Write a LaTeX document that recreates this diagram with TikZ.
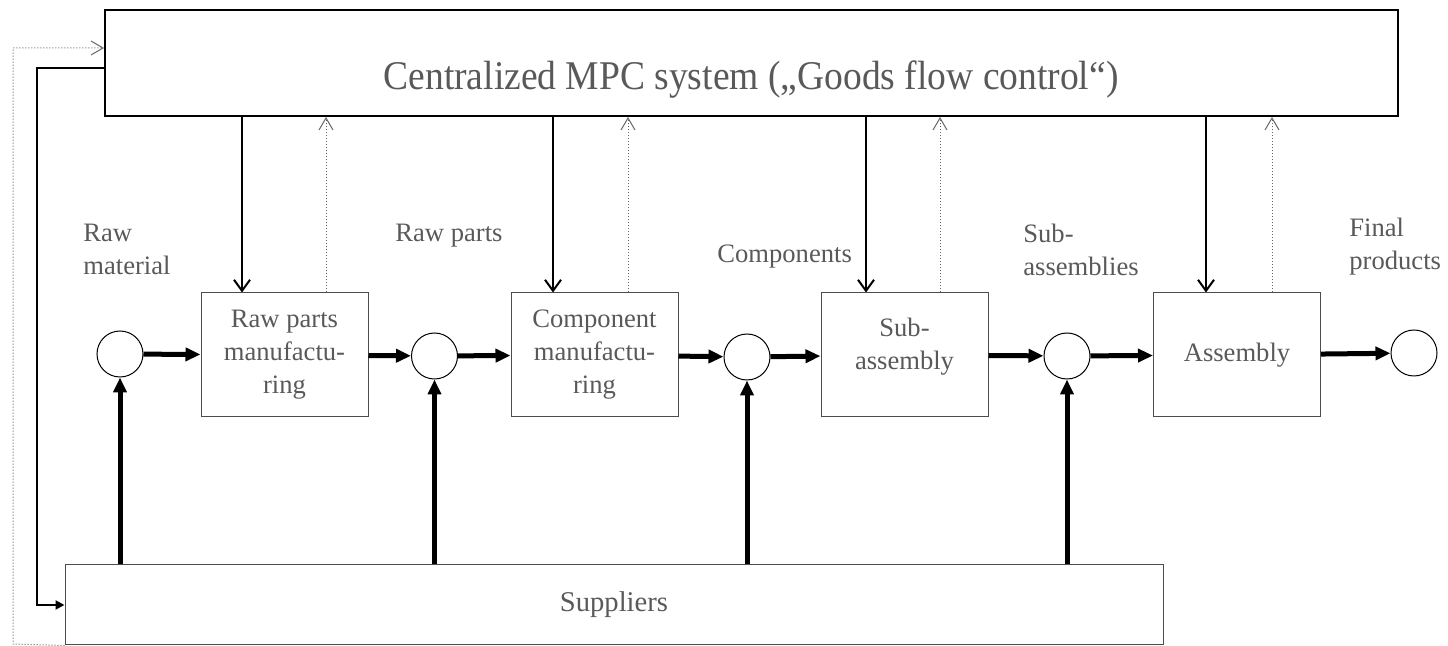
\documentclass[tikz,border=0pt]{standalone}
\usepackage{fontspec}
\setmainfont{Liberation Serif}
\newfontfamily\titlefont[FakeStretch=0.92]{Liberation Serif}
\usetikzlibrary{arrows.meta}

\begin{document}
\begin{tikzpicture}[x=0.5pt,y=-0.5pt]
\tikzstyle{every node}=[inner sep=0pt]
\tikzstyle{txt}=[text=black!65,font=\fontsize{13.3}{16.5}\selectfont]
\tikzstyle{proc}=[txt,draw=black!70,line width=0.5pt,minimum width=83.5pt,minimum height=62pt,align=center]
\tikzstyle{store}=[circle,draw,line width=0.5pt,minimum size=23pt]
\tikzstyle{stage}=[txt,align=left,anchor=north west]
\tikzstyle{flow}=[line width=2.5pt,-{Triangle[length=7.5pt,width=6.5pt]}]
\tikzstyle{ctrl}=[line width=1pt,-{Straight Barb[length=5.5pt,width=8pt]}]
\tikzstyle{report}=[black!60,line width=0.5pt,densely dotted,-{Straight Barb[length=6pt,width=7pt]}]
\useasboundingbox (0,0) rectangle (1448,646);

% control system and suppliers
\node[draw,line width=1pt,minimum width=646.5pt,minimum height=53pt] (mpc) at (751.5,63) {};
\node[txt,anchor=base,font=\titlefont\fontsize{20.4}{24}\selectfont] (mpctitle) at (751,90) {Centralized MPC system („Goods flow control“)};
\node[txt,draw=black!70,line width=0.5pt,minimum width=549pt,minimum height=40pt,font=\fontsize{14.3}{17}\selectfont] (sup) at (614,605) {Suppliers};

% stores
\node[store] (c1) at (120,354) {};
\node[store] (c2) at (434.5,356) {};
\node[store] (c3) at (747,357) {};
\node[store] (c4) at (1067,356) {};
\node[store] (c5) at (1414,353) {};

% stages
\node[proc] (rpm) at (284.5,355) {Raw parts\\manufactu-\\ring};
\node[proc] (cm) at (594.5,355) {Component\\manufactu-\\ring};
\node[proc] (sa) at (904.5,355) {};
\node[txt,align=center] (satext) at (904.5,347) {Sub-\\assembly};
\node[proc] (asm) at (1237,355) {Assembly};

% labels
\node[stage] (lraw) at (83,224) {Raw\\material};
\node[txt,anchor=base west] (lparts) at (395,242) {Raw parts};
\node[txt,anchor=base west] (lcomp) at (717,263) {Components};
\node[stage] (lsub) at (1023,224) {Sub-\\assemblies};
\node[stage] (lfin) at (1349,218) {Final\\products};

% material flow
\foreach \a/\b in {c1/rpm, rpm/c2, c2/cm, cm/c3, c3/sa, sa/c4, c4/asm, asm/c5}
  \draw[flow] (\a) -- (\b);
\foreach \c in {c1,c2,c3,c4}
  \draw[flow] (\c |- sup.north) -- (\c.south);

% orders down, reports up
\foreach \b/\s/\f in {rpm/-21.25/20.75, cm/-20.75/16.75, sa/-19.25/17.75, asm/-15.5/17.5}{
  \path ([xshift=\s pt]\b.north) coordinate (\b-in);
  \path ([xshift=\f pt]\b.north) coordinate (\b-out);
  \draw[ctrl] (\b-in |- mpc.south) -- (\b-in);
  \draw[report] (\b-out) -- (\b-out |- mpc.south);
}

% feedback loops on the left
\coordinate (fbs) at (37,68);
\coordinate (fbd) at (13,644);
\draw[line width=1pt,-{Triangle[length=4.5pt,width=4.5pt]}] ([yshift=-2.5pt]mpc.west) -- (fbs) |- (sup.west);
\draw[report] (sup.south west) -- (fbd) |- ([yshift=7.5pt]mpc.west);
\end{tikzpicture}
\end{document}
